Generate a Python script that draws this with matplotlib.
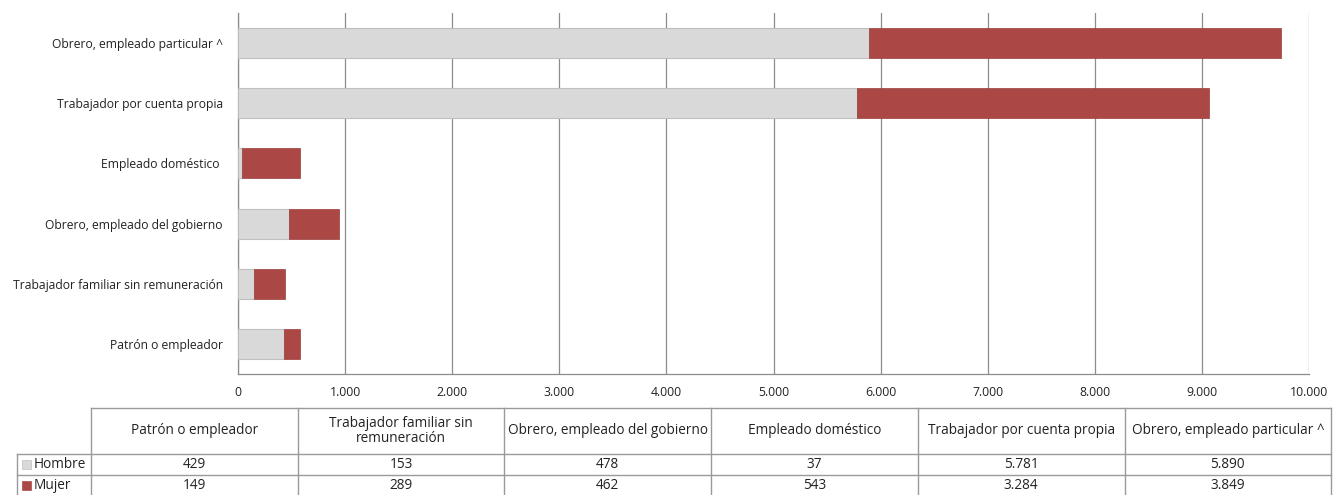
import matplotlib
matplotlib.use("Agg")
import matplotlib.pyplot as plt
from matplotlib.patches import Rectangle
from matplotlib.ticker import FuncFormatter, MultipleLocator

categories = ["Patrón o empleador", "Trabajador familiar sin remuneración",
              "Obrero, empleado del gobierno", "Empleado doméstico",
              "Trabajador por cuenta propia", "Obrero, empleado particular ^"]
table_headers = ["Patrón o empleador", "Trabajador familiar sin\nremuneración",
                 "Obrero, empleado del gobierno", "Empleado doméstico",
                 "Trabajador por cuenta propia", "Obrero, empleado particular ^"]
hombre = [429, 153, 478, 37, 5781, 5890]
mujer = [149, 289, 462, 543, 3284, 3849]
series_names = ["Hombre", "Mujer"]

GREY = "#D9D9D9"
RED = "#AB4846"
GRID = "#8C8C8C"
FONT = "Open Sans"
TXT = "#222222"

W, H = 1340, 495
fig = plt.figure(figsize=(W / 100, H / 100), dpi=100)

def fx(px):
    return px / W

def fy(py):
    return 1 - py / H

ax = fig.add_axes([fx(238), fy(374), fx(1309) - fx(238), fy(13) - fy(374)])
y = list(range(len(categories)))
ax.barh(y, hombre, height=0.5, color=GREY, edgecolor="#BFBFBF", linewidth=0.8, zorder=3)
ax.barh(y, mujer, left=hombre, height=0.5, color=RED, edgecolor="#9A3C3A", linewidth=0.5, zorder=3)
ax.set_xlim(0, 10000)
ax.set_ylim(-0.5, len(categories) - 0.5)
ax.xaxis.set_major_locator(MultipleLocator(1000))
ax.xaxis.set_major_formatter(FuncFormatter(lambda v, p: f"{int(v):,}".replace(",", ".")))
ax.set_yticks(y)
ylabels = [c if c != "Empleado doméstico" else "Empleado doméstico " for c in categories]
ax.set_yticklabels(ylabels, fontsize=8.75, family=FONT, color=TXT)
for lab in ax.get_xticklabels():
    lab.set_fontsize(8.8)
    lab.set_family(FONT)
    lab.set_color(TXT)
ax.tick_params(axis="x", length=0, pad=9)
ax.tick_params(axis="y", length=0, pad=11)
ax.grid(axis="x", color=GRID, linewidth=0.9, zorder=0)
for s in ["top", "right"]:
    ax.spines[s].set_visible(False)
ax.spines["left"].set_color(GRID)
ax.spines["bottom"].set_color(GRID)
ax.spines["left"].set_linewidth(0.9)
ax.spines["bottom"].set_linewidth(0.9)

# data table drawn in figure pixel coordinates
tab_color = "#9A9A9A"
col_x = [91 + i * 206.7 for i in range(len(categories) + 1)]
label_x0 = 17
row_y = [408, 454, 475, 496]

def hline(x0, x1, yy):
    fig.add_artist(plt.Line2D([fx(x0), fx(x1)], [fy(yy), fy(yy)], color=tab_color, lw=1.0))

def vline(xx, y0, y1):
    fig.add_artist(plt.Line2D([fx(xx), fx(xx)], [fy(y0), fy(y1)], color=tab_color, lw=1.0))

hline(col_x[0], col_x[-1], row_y[0])
hline(label_x0, col_x[-1], row_y[1])
hline(label_x0, col_x[-1], row_y[2])
for xx in col_x:
    vline(xx, row_y[0], row_y[3])
vline(label_x0, row_y[1], row_y[3])

for i, h in enumerate(table_headers):
    cx = (col_x[i] + col_x[i + 1]) / 2
    fig.text(fx(cx), fy((row_y[0] + row_y[1]) / 2), h, ha="center", va="center",
             fontsize=9.8, family=FONT, color=TXT, linespacing=0.95)

series = [hombre, mujer]
colors = [GREY, RED]
for r in range(2):
    yc = (row_y[r + 1] + row_y[r + 2]) / 2
    fig.add_artist(Rectangle((fx(22), fy(yc + 4.5)), fx(9), fy(0) - fy(9),
                             facecolor=colors[r], edgecolor="#BFBFBF" if r == 0 else colors[r],
                             lw=0.5))
    fig.text(fx(34), fy(yc), series_names[r], ha="left", va="center",
             fontsize=9.8, family=FONT, color=TXT)
    for i, v in enumerate(series[r]):
        cx = (col_x[i] + col_x[i + 1]) / 2
        fig.text(fx(cx), fy(yc), f"{v:,}".replace(",", "."), ha="center", va="center",
                 fontsize=9.8, family=FONT, color=TXT)

fig.savefig("out.png", dpi=100)
